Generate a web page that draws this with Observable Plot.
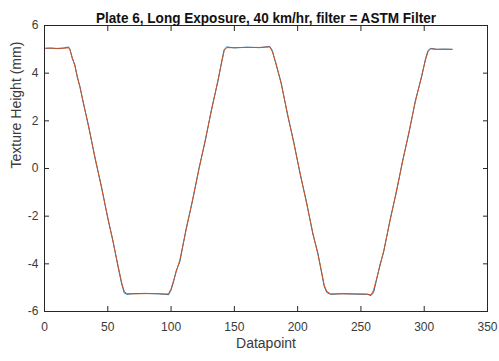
<!DOCTYPE html>
<html>
<head>
<meta charset="utf-8">
<script src="https://cdn.jsdelivr.net/npm/d3@7"></script>
<script src="https://cdn.jsdelivr.net/npm/@observablehq/plot@0.6"></script>
<style>
  html, body { margin: 0; padding: 0; background: #fff; }
  #chart { width: 499px; height: 361px; }
</style>
</head>
<body>
<div id="chart"></div>
<script>
const titleText = "Plate 6, Long Exposure, 40 km/hr, filter = ASTM Filter";
const xLabel = "Datapoint";
const yLabel = "Texture Height (mm)";
const xTicks = [0, 50, 100, 150, 200, 250, 300, 350];
const yTicks = [-6, -4, -2, 0, 2, 4, 6];

// datapoint positions (vertices)
const datapoints = [1, 5, 10, 15, 19, 20, 22, 24, 26, 28, 30, 35, 40, 45, 50, 54, 58, 61, 63, 65, 70, 80, 90, 96, 98, 100, 102, 104, 107, 112, 117, 122, 127, 132, 137, 140, 142, 144, 150, 160, 170, 178, 180, 183, 187, 192, 197, 202, 207, 212, 216, 219, 221, 223, 226, 235, 245, 255, 258, 260, 262, 265, 268, 273, 278, 283, 288, 293, 298, 301, 303, 305, 310, 315, 322];
// filtered profile (red)
const filtered = [5.05, 5.05, 5.04, 5.05, 5.06, 5.0, 4.65, 4.3, 3.85, 3.4, 2.95, 1.7, 0.45, -0.8, -2.05, -3.05, -4.05, -4.8, -5.15, -5.25, -5.26, -5.25, -5.25, -5.27, -5.25, -5.05, -4.7, -4.35, -3.82, -2.55, -1.3, -0.05, 1.2, 2.45, 3.7, 4.45, 4.95, 5.07, 5.07, 5.08, 5.08, 5.1, 4.9, 4.4, 3.55, 2.3, 1.05, -0.2, -1.45, -2.7, -3.6, -4.35, -4.9, -5.15, -5.26, -5.26, -5.26, -5.27, -5.3, -5.1, -4.7, -4.1, -3.45, -2.2, -0.95, 0.3, 1.55, 2.8, 3.9, 4.55, 4.9, 5.02, 5.0, 5.0, 5.0];
// raw profile (blue)
const raw = [5.04, 5.05, 5.03, 5.05, 5.1, 5.02, 4.6, 4.35, 3.8, 3.45, 2.9, 1.75, 0.4, -0.75, -2.1, -3.0, -4.1, -4.85, -5.22, -5.28, -5.25, -5.24, -5.26, -5.28, -5.3, -5.1, -4.75, -4.3, -3.9, -2.5, -1.35, 0.0, 1.15, 2.5, 3.65, 4.5, 5.0, 5.1, 5.06, 5.09, 5.07, 5.12, 4.95, 4.35, 3.6, 2.25, 1.1, -0.25, -1.4, -2.75, -3.55, -4.4, -4.95, -5.2, -5.28, -5.25, -5.27, -5.28, -5.33, -5.2, -4.75, -4.05, -3.5, -2.15, -1.0, 0.35, 1.5, 2.85, 3.85, 4.6, 4.95, 5.04, 5.0, 5.01, 5.0];

const rows = datapoints.map((x, i) => ({x, raw: raw[i], filtered: filtered[i]}));

const ink = "#262626";
const fmt = d => String(d);

const chart = Plot.plot({
  width: 499,
  height: 361,
  marginLeft: 44,
  marginRight: 12,
  marginTop: 25,
  marginBottom: 50,
  style: {fontFamily: "'Liberation Sans', Arial, Helvetica, sans-serif", fontSize: "12px", color: ink, background: "#fff"},
  x: {domain: [0, 350]},
  y: {domain: [-6, 6]},
  marks: [
    Plot.line(rows, {x: "x", y: "raw", stroke: "#0072BD", strokeWidth: 1}),
    Plot.line(rows, {x: "x", y: "filtered", stroke: "#D95319", strokeWidth: 1}),
    Plot.frame({stroke: ink, strokeWidth: 1}),
    Plot.axisX(xTicks, {anchor: "bottom", tickSize: -5, text: null, label: null, stroke: ink}),
    Plot.axisX(xTicks, {anchor: "top", tickSize: -5, text: null, label: null, stroke: ink}),
    Plot.axisY(yTicks, {anchor: "left", tickSize: -5, text: null, label: null, stroke: ink}),
    Plot.axisY(yTicks, {anchor: "right", tickSize: -5, text: null, label: null, stroke: ink}),
    Plot.axisX(xTicks, {anchor: "bottom", tickSize: 0, tickPadding: 11, tickFormat: fmt, label: null, fill: "#3a3a3a", fontSize: 12}),
    Plot.axisY(yTicks, {anchor: "left", tickSize: 0, tickPadding: 6, tickFormat: fmt, label: null, fill: "#3a3a3a", fontSize: 12}),
    Plot.text([xLabel], {frameAnchor: "bottom", dy: 36, fill: "#3a3a3a", fontSize: 14}),
    Plot.text([yLabel], {frameAnchor: "left", dx: -28, rotate: -90, fill: "#3a3a3a", fontSize: 14}),
    Plot.text([titleText], {frameAnchor: "top", dy: -13, fill: "#111", fontSize: 14.5, fontWeight: "bold"})
  ]
});
document.getElementById("chart").appendChild(chart);
chart.querySelectorAll("text").forEach(t => {
  if (t.textContent === titleText) {
    t.setAttribute("textLength", "340");
    t.setAttribute("lengthAdjust", "spacingAndGlyphs");
  }
});
</script>
</body>
</html>
